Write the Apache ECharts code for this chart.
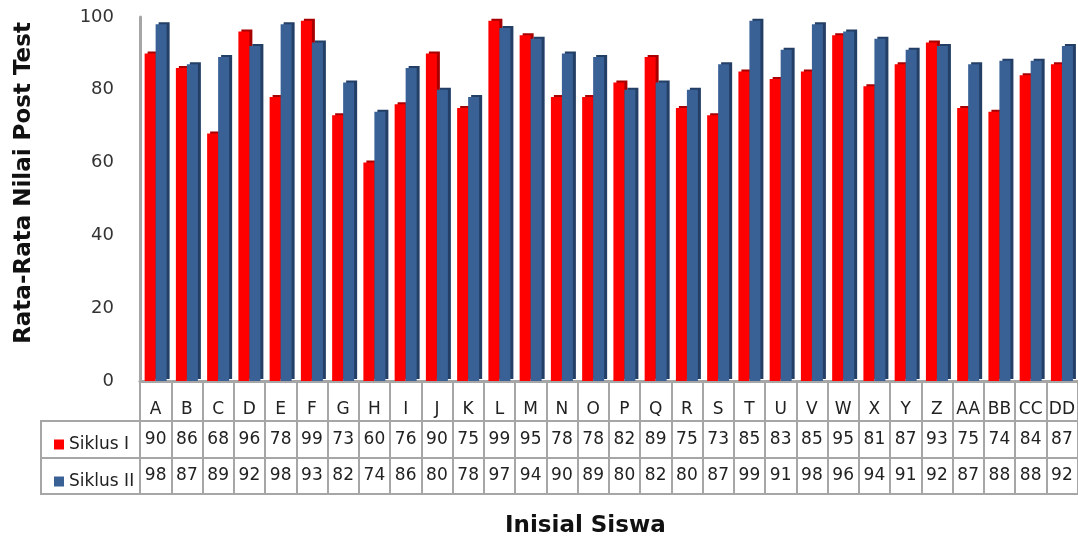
<!DOCTYPE html>
<html>
<head>
<meta charset="utf-8">
<script src="https://cdn.jsdelivr.net/npm/echarts@6/dist/echarts.min.js"></script>
<style>
  html, body { margin: 0; padding: 0; background: #fff; }
  #chart { width: 1078px; height: 540px; }
</style>
</head>
<body>
<div id="chart"></div>
<script>
// Student initials and post test averages
const students = ["A", "B", "C", "D", "E", "F", "G", "H", "I", "J", "K", "L", "M", "N", "O",
  "P", "Q", "R", "S", "T", "U", "V", "W", "X", "Y", "Z", "AA", "BB", "CC", "DD"];
const siklus1 = [90, 86, 68, 96, 78, 99, 73, 60, 76, 90, 75, 99, 95, 78, 78,
  82, 89, 75, 73, 85, 83, 85, 95, 81, 87, 93, 75, 74, 84, 87];
const siklus2 = [98, 87, 89, 92, 98, 93, 82, 74, 86, 80, 78, 97, 94, 90, 89,
  80, 82, 80, 87, 99, 91, 98, 96, 94, 91, 92, 87, 88, 88, 92];
const yTicks = [0, 20, 40, 60, 80, 100];

const FONT = "DejaVu Sans";
const GRID_LINE = "#a6a6a6";

const chart = echarts.init(document.getElementById("chart"));

const option = {
  animation: false,
  title: {
    text: "Inisial Siswa",
    left: 500,
    top: 510,
    textStyle: { fontFamily: FONT, fontSize: 23, fontWeight: "bold", color: "#111" }
  },
  legend: {
    data: ["Siklus I", "Siklus II"],
    orient: "vertical",
    left: 49,
    top: 431,
    icon: "rect",
    itemWidth: 10,
    itemHeight: 10,
    itemGap: 20,
    selectedMode: false,
    textStyle: { fontFamily: FONT, fontSize: 17, lineHeight: 16, color: "#222" }
  },
  grid: {
    left: 140,
    right: 0,
    top: 17,
    bottom: 159,
    containLabel: false
  },
  xAxis: {
    type: "category",
    data: students,
    axisLine: { lineStyle: { color: GRID_LINE, width: 3 } },
    axisTick: { show: true, interval: 0, length: 113, lineStyle: { color: GRID_LINE, width: 2 } },
    axisLabel: {
      interval: 0,
      margin: 14,
      formatter: (value, idx) => `{h|${value}}\n{a|${siklus1[idx]}}\n{b|${siklus2[idx]}}`,
      rich: {
        h: { fontFamily: FONT, fontSize: 17, lineHeight: 30, color: "#222" },
        a: { fontFamily: FONT, fontSize: 17, lineHeight: 30, color: "#222" },
        b: { fontFamily: FONT, fontSize: 17, lineHeight: 42, color: "#222" }
      }
    }
  },
  yAxis: {
    type: "value",
    min: yTicks[0],
    max: yTicks[yTicks.length - 1],
    interval: yTicks[1] - yTicks[0],
    name: "Rata-Rata Nilai Post Test",
    nameLocation: "middle",
    nameRotate: 90,
    nameGap: 104,
    nameTextStyle: { fontFamily: FONT, fontSize: 23, fontWeight: "bold", color: "#111", padding: [0, 0, 0, 32] },
    axisLine: { show: true, lineStyle: { color: GRID_LINE, width: 3 } },
    axisTick: { show: false },
    splitLine: { show: false },
    axisLabel: { fontFamily: FONT, fontSize: 18, color: "#333", margin: 26 }
  },
  series: [
    {
      name: "Siklus I",
      type: "bar",
      data: siklus1,
      barWidth: 11,
      barGap: "0%",
      itemStyle: { color: "#ff0000", shadowColor: "#a80000", shadowOffsetX: 3, shadowOffsetY: -2, shadowBlur: 0 }
    },
    {
      name: "Siklus II",
      type: "bar",
      data: siklus2,
      barWidth: 11,
      barGap: "0%",
      itemStyle: { color: "#3a6196", shadowColor: "#233f66", shadowOffsetX: 3, shadowOffsetY: -2, shadowBlur: 0 }
    }
  ],
  graphic: [
    {
      type: "rect",
      shape: { x: 41, y: 421, width: 1037, height: 73 },
      style: { fill: "none", stroke: GRID_LINE, lineWidth: 2 }
    },
    {
      type: "line",
      shape: { x1: 41, y1: 458, x2: 1078, y2: 458 },
      style: { stroke: GRID_LINE, lineWidth: 2 }
    }
  ]
};

chart.setOption(option);
window.addEventListener("resize", () => chart.resize());
</script>
</body>
</html>
